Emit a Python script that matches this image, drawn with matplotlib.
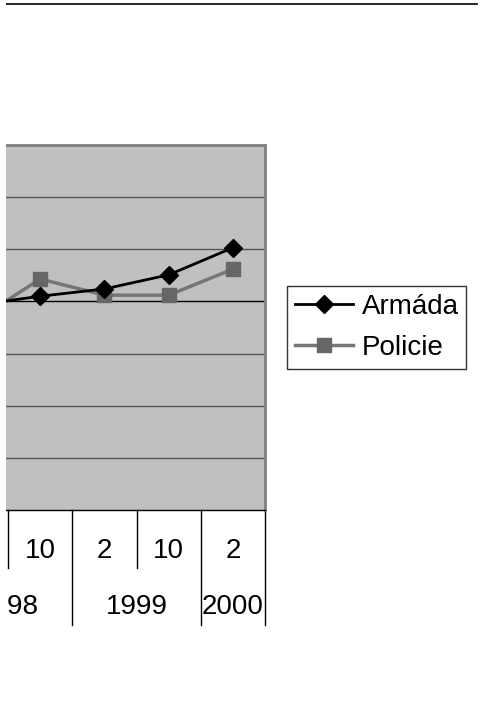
import matplotlib
matplotlib.use('Agg')
import matplotlib.pyplot as plt
from matplotlib.lines import Line2D
from matplotlib.patches import Rectangle
from matplotlib.transforms import blended_transform_factory

plt.rcParams['font.family'] = ['Liberation Sans', 'DejaVu Sans']

# categories (month, year) - first one is cut off on the left in the original
months = ['2', '10', '2', '10', '2']
years = ['1998', '1998', '1999', '1999', '2000']
armada = [3.93, 4.10, 4.24, 4.51, 5.03]
policie = [3.64, 4.43, 4.12, 4.12, 4.62]
series_names = ['Armáda', 'Policie']

W, H = 482, 711
fig = plt.figure(figsize=(W / 100, H / 100), dpi=100)
fig.patch.set_facecolor('white')

# plot area in pixel coords: x -56..265, y 145..510
ax = fig.add_axes([-56 / W, (H - 510) / H, 321 / W, 365 / H])
ax.set_facecolor('#c0c0c0')
n = len(months)
ax.set_xlim(-0.5, n - 0.5)
ax.set_ylim(0, 7)
ax.set_xticks([])
ax.set_yticks([])
ax.spines['left'].set_visible(False)
ax.spines['top'].set_color('#808080')
ax.spines['top'].set_linewidth(2)
ax.spines['right'].set_color('#808080')
ax.spines['right'].set_linewidth(2)
ax.spines['bottom'].set_color('black')
ax.spines['bottom'].set_linewidth(1)

for g in range(1, 7):
    ax.axhline(g, color='black' if g == 4 else '#555555', lw=1, zorder=1)

x = list(range(n))
ax.plot(x, armada, color='black', lw=2, marker='D', markersize=9,
        markerfacecolor='black', markeredgecolor='black', zorder=3, label=series_names[0])
ax.plot(x, policie, color='#767676', lw=2.5, marker='s', markersize=10,
        markerfacecolor='#666666', markeredgecolor='#666666', zorder=2, label=series_names[1])

# multi-level category axis
tr = blended_transform_factory(ax.transData, fig.transFigure)
fy = lambda py: (H - py) / H
for i in range(n + 1):
    xb = i - 0.5
    long = i == n or i == 0 or years[i] != years[i - 1]
    y_end = 625 if long else 568
    ax.add_line(Line2D([xb, xb], [fy(510), fy(y_end)], transform=tr, color='black',
                       lw=1, clip_on=False))
for i, m in enumerate(months):
    ax.text(i, fy(551), m, transform=tr, ha='center', va='center', fontsize=20)
start = 0
for i in range(1, n + 1):
    if i == n or years[i] != years[start]:
        ax.text((start + i - 1) / 2, fy(607), years[start], transform=tr,
                ha='center', va='center', fontsize=20)
        start = i

leg = fig.legend(loc='upper left', bbox_to_anchor=(287 / W, fy(286)), borderaxespad=0,
                 fontsize=20, frameon=True, fancybox=False, edgecolor='black',
                 handlelength=2.1, handletextpad=0.3, borderpad=0.28, labelspacing=0.55)
leg.get_frame().set_linewidth(1)

# top rule and white strip on the left edge (cropped original)
fig.add_artist(Line2D([6 / W, 477 / W], [fy(4), fy(4)], color='black', lw=1.2))
fig.add_artist(Rectangle((0, 0), 6 / W, 1, transform=fig.transFigure,
                         facecolor='white', edgecolor='none', zorder=10))

fig.savefig('out.png', dpi=100)
